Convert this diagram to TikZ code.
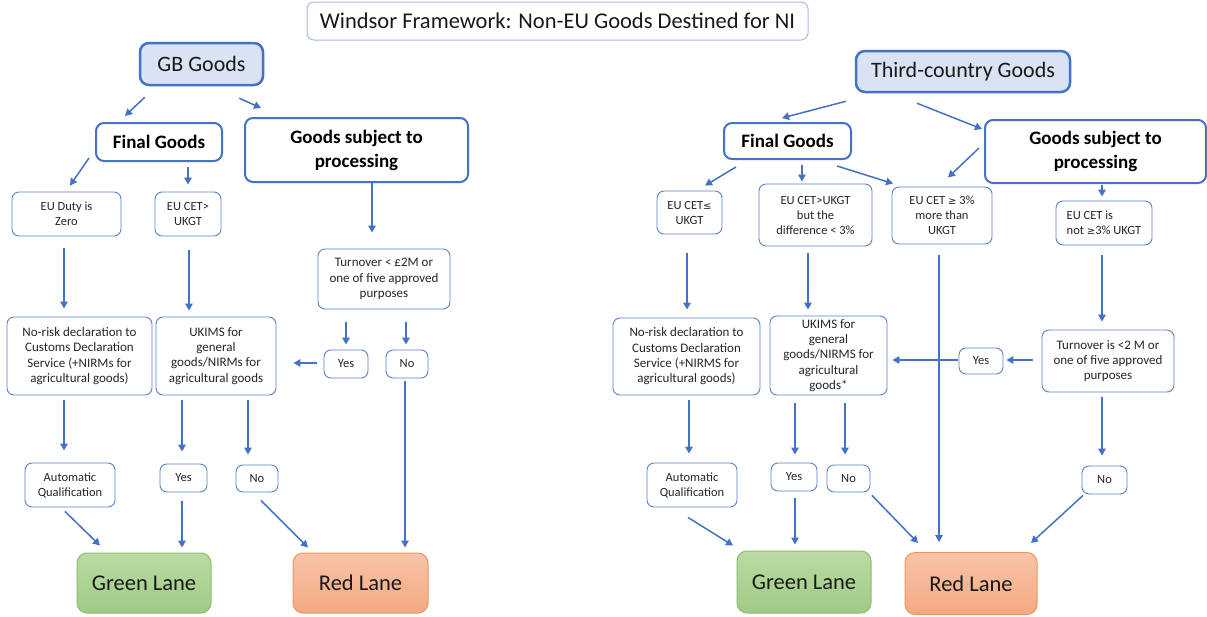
\documentclass[tikz,border=0pt]{standalone}
\usepackage{fontspec}
\setmainfont{Carlito}
\newfontfamily\symf{DejaVu Sans}
\usetikzlibrary{arrows.meta,calc}
\definecolor{lineblue}{HTML}{4472C4}
\definecolor{boxblue}{HTML}{5B82C9}
\definecolor{titleblue}{HTML}{A9BCDD}
\definecolor{topfill}{HTML}{DAE3F3}
\definecolor{greentop}{HTML}{B9DBA3}
\definecolor{greenbot}{HTML}{A1CA86}
\definecolor{greenedge}{HTML}{8DBE6E}
\definecolor{redtop}{HTML}{F8C4A8}
\definecolor{redbot}{HTML}{F3A982}
\definecolor{rededge}{HTML}{EC9763}
\newcommand{\symle}{{\symf\fontsize{10}{12}\selectfont ≤}}
\newcommand{\symge}{{\symf\fontsize{10}{12}\selectfont ≥}}
\begin{document}
\begin{tikzpicture}[x=1pt,y=-1pt,
  arr/.style={draw=lineblue, line width=1.5pt, -{Triangle[length=7pt,width=7.5pt]}},
  sbox/.style={draw=boxblue, line width=0.9pt, rounded corners=7pt, fill=white, align=center,
     inner sep=0pt, text=black!85, font=\fontsize{12.5}{15}\selectfont},
  mbox/.style={sbox, font=\fontsize{13}{15.3}\selectfont},
  hbox/.style={draw=lineblue, line width=2pt, rounded corners=8pt, fill=white, align=center,
     inner sep=0pt, text=black, font=\bfseries\fontsize{19}{24}\selectfont},
  topbox/.style={draw=lineblue, line width=2.5pt, rounded corners=9pt, fill=topfill,
     inner sep=0pt, text=black!90, font=\fontsize{22}{26}\selectfont},
  glane/.style={draw=greenedge, line width=1pt, rounded corners=10pt, top color=greentop,
     bottom color=greenbot, inner sep=0pt, text=black!90, font=\fontsize{22.5}{26}\selectfont},
  rlane/.style={draw=rededge, line width=1pt, rounded corners=10pt, top color=redtop,
     bottom color=redbot, inner sep=0pt, text=black!90, font=\fontsize{22.5}{26}\selectfont},
  titlebox/.style={draw=titleblue, line width=1pt, rounded corners=7pt, fill=white,
     inner sep=0pt, text=black!90, font=\fontsize{22.5}{26}\selectfont}
]
\useasboundingbox[fill=white] (0,0) rectangle (1207,616);

% title
\node[titlebox, minimum width=501pt, minimum height=38pt] (title) at (557.5,21) {Windsor Framework: Non-EU Goods Destined for NI};

% ---------------- left ----------------
\node[topbox, minimum width=123pt, minimum height=42pt] (gbL) at (201.5,64) {GB Goods};
\node[hbox, minimum width=126pt, minimum height=38pt] (finL) at (159,142) {Final Goods};
\node[hbox, minimum width=223pt, minimum height=64pt] (procL) at (356.5,150) {Goods subject to\\processing};
\node[sbox, minimum width=109pt, minimum height=44pt] (dutyL) at (66.5,214) {EU Duty is\\Zero};
\node[sbox, minimum width=66pt, minimum height=44pt] (cetL) at (188,214) {EU CET>\\UKGT};
\node[mbox, minimum width=132pt, minimum height=60pt] (turnL) at (384,279) {Turnover < £2M or\\one of five approved\\purposes};
\node[mbox, minimum width=145pt, minimum height=78pt] (nriskL) at (79.5,356) {No-risk declaration to\\Customs Declaration\\Service (+NIRMs for\\agricultural goods)};
\node[mbox, minimum width=120pt, minimum height=78pt] (ukimsL) at (216,356) {UKIMS for\\general\\goods/NIRMs for\\agricultural goods};
\node[sbox, minimum width=44pt, minimum height=28pt] (yesL) at (346,364) {Yes};
\node[sbox, minimum width=42pt, minimum height=28pt] (noL) at (407,364) {No};
\node[sbox, minimum width=90pt, minimum height=44pt] (autoL) at (70,485) {Automatic\\Qualification};
\node[sbox, minimum width=47pt, minimum height=28pt] (yes2L) at (183.5,478) {Yes};
\node[sbox, minimum width=42pt, minimum height=27pt] (no2L) at (257,478.5) {No};
\node[glane, minimum width=134pt, minimum height=60pt] (greenL) at (144,583) {Green Lane};
\node[rlane, minimum width=135pt, minimum height=60pt] (redL) at (360.5,583) {Red Lane};

\draw[arr] ($(gbL.south west)+(6,11)$) -- ($(finL.north)+(-34,-6)$);
\draw[arr] ($(gbL.south east)+(-25,12)$) -- ($(procL.north west)+(17,-9)$);
\draw[arr] ($(finL.south west)+(-6,-4)$) -- ($(dutyL.north)+(3.5,-6)$);
\draw[arr] ($(finL.south)+(29,5)$) -- ($(cetL.north)+(0,-7)$);
\draw[arr] ($(procL.south)+(15.5,0)$) -- ($(turnL.north)+(-12,-16)$);
\draw[arr] ($(dutyL.south)+(-2.5,12)$) -- ($(nriskL.north)+(-15.5,-8)$);
\draw[arr] ($(cetL.south)+(1,14)$) -- ($(ukimsL.north)+(-27,-6)$);
\draw[arr] ($(turnL.south)+(-38,13)$) -- ($(yesL.north)+(0,-5)$);
\draw[arr] ($(turnL.south)+(22,13)$) -- ($(noL.north)+(-1,-5)$);
\draw[arr] ($(yesL.west)+(-7,-1)$) -- ($(ukimsL.east)+(17,7)$);
\draw[arr] ($(noL.south)+(-2,3)$) -- ($(redL.north)+(44.5,-5)$);
\draw[arr] ($(nriskL.south)+(-15.5,5)$) -- ($(autoL.north)+(-6,-12)$);
\draw[arr] ($(ukimsL.south)+(-34,5)$) -- ($(yes2L.north)+(-1.5,-12)$);
\draw[arr] ($(ukimsL.south)+(32,5)$) -- ($(no2L.north)+(-9,-10)$);
\draw[arr] ($(autoL.south)+(-5,4)$) -- ($(greenL.north)+(-44,-7)$);
\draw[arr] ($(yes2L.south)+(-1.5,9)$) -- ($(greenL.north)+(38,-5)$);
\draw[arr] ($(no2L.south)+(4,8)$) -- ($(redL.north)+(-52.5,-5)$);

% ---------------- right ----------------
\node[topbox, minimum width=214pt, minimum height=41pt] (gbR) at (963,71.5) {Third-country Goods};
\node[hbox, minimum width=127pt, minimum height=36pt] (finR) at (787.5,141) {Final Goods};
\node[hbox, minimum width=221pt, minimum height=63pt] (procR) at (1095.5,151.5) {Goods subject to\\processing};
\node[sbox, minimum width=65pt, minimum height=43pt] (leR) at (689.5,212.5) {EU CET\symle\\UKGT};
\node[sbox, minimum width=113pt, minimum height=62pt] (gtR) at (815.5,215) {EU CET>UKGT\\but the\\difference < 3\%};
\node[sbox, minimum width=100pt, minimum height=57pt] (geR) at (942,215.5) {EU CET \symge{} 3\%\\more than\\UKGT};
\node[sbox, minimum width=96pt, minimum height=44pt, align=left] (notR) at (1104,223) {EU CET is\\not \symge3\% UKGT};
\node[mbox, minimum width=147pt, minimum height=77pt] (nriskR) at (686.5,356.5) {No-risk declaration to\\Customs Declaration\\Service (+NIRMS for\\agricultural goods)};
\node[mbox, minimum width=117pt, minimum height=79pt] (ukimsR) at (828.5,355.5) {UKIMS for\\general\\goods/NIRMS for\\agricultural\\goods*};
\node[sbox, minimum width=44pt, minimum height=26pt] (yesR) at (981,361) {Yes};
\node[mbox, minimum width=132pt, minimum height=62pt] (turnR) at (1108,361) {Turnover is <2 M or\\one of five approved\\purposes};
\node[sbox, minimum width=90pt, minimum height=44pt] (autoR) at (692,485) {Automatic\\Qualification};
\node[sbox, minimum width=46pt, minimum height=28pt] (yes2R) at (794,477) {Yes};
\node[sbox, minimum width=43pt, minimum height=27pt] (no2R) at (848.5,478.5) {No};
\node[sbox, minimum width=45pt, minimum height=28pt] (no3R) at (1104.5,480) {No};
\node[glane, minimum width=134pt, minimum height=62pt] (greenR) at (804,582) {Green Lane};
\node[rlane, minimum width=132pt, minimum height=62pt] (redR) at (971,583.5) {Red Lane};

\draw[arr] ($(gbR.south)+(-117,8)$) -- ($(finR.north)+(-5.5,-4)$);
\draw[arr] ($(gbR.south)+(-46,10)$) -- ($(procR.west)+(-2,-22.5)$);
\draw[arr] ($(procR.west)+(-5,-3.5)$) -- ($(geR.north)+(6,-9)$);
\draw[arr] ($(finR.south)+(-51.5,7)$) -- ($(leR.north)+(15.5,-5)$);
\draw[arr] ($(finR.south)+(14.5,5)$) -- ($(gtR.north)+(-13.5,-2)$);
\draw[arr] ($(finR.south)+(49.5,6)$) -- ($(geR.north)+(-49,-3)$);
\draw[arr] ($(procR.south)+(6.5,1)$) -- ($(notR.north)+(-2,-4)$);
\draw[arr] ($(leR.south)+(-2.5,19)$) -- ($(nriskR.north)+(0.5,-8)$);
\draw[arr] ($(gtR.south)+(-7.5,7)$) -- ($(ukimsR.north)+(-20.5,-6)$);
\draw[arr] ($(geR.south)+(-3,11)$) -- ($(redR.north)+(-32,-10)$);
\draw[arr] ($(notR.south)+(-2,10)$) -- ($(turnR.north)+(-6,-8)$);
\draw[arr] ($(turnR.west)+(-9,-1)$) -- ($(yesR.east)+(3,-1)$);
\draw[arr] ($(yesR.west)+(-1,-1)$) -- ($(ukimsR.east)+(5,4.5)$);
\draw[arr] ($(turnR.south)+(-6,5)$) -- ($(no3R.north)+(-2.5,-10)$);
\draw[arr] ($(nriskR.south)+(2.5,5)$) -- ($(autoR.north)+(-3,-9)$);
\draw[arr] ($(ukimsR.south)+(-33.5,8)$) -- ($(yes2R.north)+(1,-8)$);
\draw[arr] ($(ukimsR.south)+(16.5,8)$) -- ($(no2R.north)+(-3.5,-10)$);
\draw[arr] ($(autoR.south)+(-4,10)$) -- ($(greenR.north)+(-71,-5)$);
\draw[arr] ($(yes2R.south)+(1,7)$) -- ($(greenR.north)+(-9,-6)$);
\draw[arr] ($(no2R.south)+(23.5,3)$) -- ($(redR.north)+(-53,-9)$);
\draw[arr] ($(no3R.south)+(-21.5,1)$) -- ($(redR.north)+(60,-9)$);
\end{tikzpicture}
\end{document}
